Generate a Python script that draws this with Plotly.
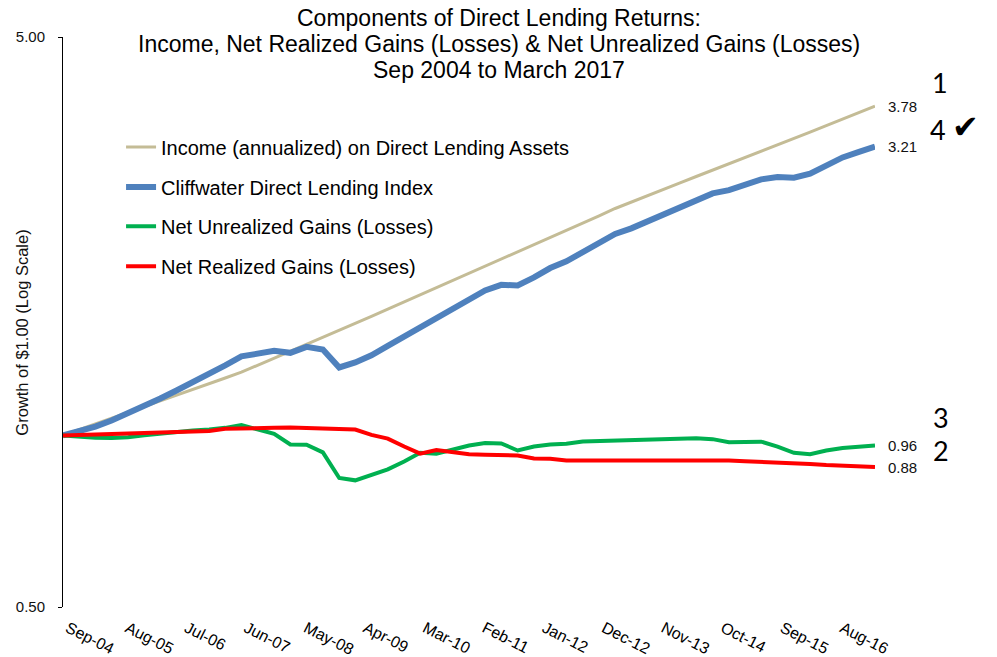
import numpy as np
import pandas as pd
import plotly.graph_objects as go

# ---------------- data ----------------
quarters = pd.date_range("2004-09-30", periods=51, freq=pd.offsets.QuarterEnd())

income = [1.000, 1.023, 1.048, 1.072, 1.097, 1.123, 1.150, 1.176, 1.204, 1.233,
          1.261, 1.291, 1.328, 1.365, 1.404, 1.443, 1.484, 1.526, 1.571, 1.617,
          1.665, 1.714, 1.765, 1.817, 1.870, 1.925, 1.982, 2.040, 2.099, 2.161,
          2.225, 2.291, 2.358, 2.428, 2.501, 2.568, 2.635, 2.704, 2.773, 2.846,
          2.919, 2.996, 3.073, 3.153, 3.235, 3.319, 3.405, 3.494, 3.584, 3.680,
          3.780]

cliffwater = [1.000, 1.018, 1.036, 1.062, 1.093, 1.126, 1.161, 1.199, 1.239, 1.280,
              1.327, 1.376, 1.394, 1.407, 1.396, 1.430, 1.415, 1.316, 1.343, 1.382,
              1.436, 1.490, 1.545, 1.612, 1.667, 1.732, 1.796, 1.837, 1.833, 1.893,
              1.966, 2.020, 2.095, 2.172, 2.257, 2.308, 2.374, 2.452, 2.522, 2.594,
              2.658, 2.693, 2.760, 2.813, 2.839, 2.832, 2.878, 2.976, 3.074, 3.143,
              3.210]

unrealized = [1.000, 0.994, 0.991, 0.990, 0.993, 1.001, 1.008, 1.015, 1.020, 1.024,
              1.031, 1.043, 1.024, 1.006, 0.964, 0.963, 0.934, 0.842, 0.834, 0.853,
              0.872, 0.900, 0.932, 0.929, 0.945, 0.960, 0.970, 0.968, 0.941, 0.956,
              0.964, 0.967, 0.976, 0.978, 0.978, 0.979, 0.982, 0.986, 0.988, 0.989,
              0.985, 0.973, 0.974, 0.975, 0.956, 0.932, 0.927, 0.941, 0.950, 0.954,
              0.960]

realized = [1.000, 1.002, 1.005, 1.007, 1.010, 1.011, 1.012, 1.014, 1.016, 1.018,
            1.027, 1.027, 1.028, 1.031, 1.032, 1.030, 1.027, 1.027, 1.024, 1.002,
            0.987, 0.956, 0.929, 0.943, 0.936, 0.927, 0.925, 0.925, 0.922, 0.911,
            0.910, 0.904, 0.904, 0.904, 0.904, 0.904, 0.904, 0.905, 0.906, 0.906,
            0.906, 0.904, 0.901, 0.899, 0.896, 0.893, 0.891, 0.887, 0.884, 0.881,
            0.880]

series_names = ["Income (annualized) on Direct Lending Assets",
                "Cliffwater Direct Lending Index",
                "Net Unrealized Gains (Losses)",
                "Net Realized Gains (Losses)"]
series_values = [income, cliffwater, unrealized, realized]
series_colors = ["#C4BC96", "#4F81BD", "#00B050", "#FF0000"]
series_widths = [3, 6, 4, 4]

x_tick_labels = ["Sep-04", "Aug-05", "Jul-06", "Jun-07", "May-08", "Apr-09", "Mar-10",
                 "Feb-11", "Jan-12", "Dec-12", "Nov-13", "Oct-14", "Sep-15", "Aug-16"]
x_tick_vals = [pd.to_datetime(t, format="%b-%y") + pd.offsets.MonthEnd(0) for t in x_tick_labels]

y_range = [0.5, 5.0]
y_tick_vals = [0.5, 5.0]
y_tick_text = ["0.50", "5.00"]
base_value = 1.0

title_lines = ["Components of Direct Lending Returns:",
               "Income, Net Realized Gains (Losses) & Net Unrealized Gains (Losses)",
               "Sep 2004 to March 2017"]

FONT = "Liberation Sans, Arial, Helvetica, sans-serif"
FIG_W, FIG_H = 989, 649

# ---------------- figure ----------------
fig = go.Figure()
legend_ids = ["legend", "legend2", "legend3", "legend4"]
for name, vals, col, w, lg in zip(series_names, series_values, series_colors,
                                  series_widths, legend_ids):
    fig.add_trace(go.Scatter(x=quarters, y=vals, mode="lines", name=name,
                             line=dict(color=col, width=w), legend=lg,
                             showlegend=True, hoverinfo="skip"))

# value labels at the end of each line
annotations = []
for vals in series_values:
    annotations.append(dict(x=quarters[-1], y=np.log10(vals[-1]), xref="x", yref="y",
                            text=f"{vals[-1]:.2f}", showarrow=False, xanchor="left",
                            yanchor="middle", xshift=11,
                            font=dict(size=15, color="#111", family=FONT)))

# title lines 2 and 3 (line 1 is the layout title)
for line, ypx in zip(title_lines[1:], [36, 62]):
    annotations.append(dict(x=491 / FIG_W, y=1 - ypx / FIG_H, xref="paper", yref="paper",
                            text=line, showarrow=False, xanchor="center", yanchor="middle",
                            font=dict(size=23, color="#000", family=FONT)))

# y-axis title
annotations.append(dict(x=-0.05, y=0.482, xref="paper", yref="paper",
                        text="Growth of $1.00 (Log Scale)", textangle=-90,
                        xanchor="center", yanchor="middle",
                        showarrow=False, font=dict(size=16.5, color="#111", family=FONT)))

# side marks
side_marks = [("1", 1.080, 0.921), ("4", 1.0776, 0.837), ("3", 1.081, 0.3316), ("2", 1.081, 0.2737)]
for txt, xx, yy in side_marks:
    annotations.append(dict(x=xx, y=yy, xref="paper", yref="paper", text=txt,
                            xanchor="center", yanchor="middle", showarrow=False,
                            font=dict(size=27, color="#000", family="Lato, Noto Sans, sans-serif")))
annotations.append(dict(x=1.112, y=0.842, xref="paper", yref="paper", text="\u2714",
                        xanchor="center", yanchor="middle", showarrow=False,
                        font=dict(size=32, color="#000", family="DejaVu Sans")))

# fix paper-referenced annotations that use figure pixels for the title lines
for a in annotations:
    if a.get("text") in title_lines[1:]:
        a["xref"] = "paper"
        a["yref"] = "paper"

pos_one = (np.log10(base_value) - np.log10(y_range[0])) / (np.log10(y_range[1]) - np.log10(y_range[0]))

legend_y = [0.807, 0.737, 0.668, 0.598]
legend_layouts = {}
for lg, yy in zip(legend_ids, legend_y):
    legend_layouts[lg] = dict(x=0.0715, y=yy, xanchor="left", yanchor="middle",
                              bgcolor="rgba(0,0,0,0)", itemwidth=30, visible=True,
                              font=dict(size=20, color="#000", family=FONT))

L, R, T, B = 55, 122, 29, 50
plot_w, plot_h = FIG_W - L - R, FIG_H - T - B
# convert title-line pixel positions (figure coords) to paper coords of the plot area
for a in annotations:
    if a.get("text") in title_lines[1:]:
        ypx = (1 - a["y"]) * FIG_H
        a["x"] = (491 - L) / plot_w
        a["y"] = (FIG_H - B - ypx) / plot_h

fig.update_layout(
    width=FIG_W, height=FIG_H,
    margin=dict(l=L, r=R, t=T, b=B, autoexpand=False),
    showlegend=True,
    paper_bgcolor="white", plot_bgcolor="white",
    title=dict(text=title_lines[0], x=491 / FIG_W, xref="container", xanchor="center",
               y=1 - 10 / FIG_H, yref="container", yanchor="middle",
               font=dict(size=23, color="#000", family=FONT)),
    xaxis=dict(type="date", range=[quarters[0], quarters[-1]], tickvals=x_tick_vals,
               ticktext=x_tick_labels, tickangle=27, showline=False, ticks="",
               showgrid=False, zeroline=False, ticklabelstandoff=8, ticklabelshift=5,
               automargin=False,
               tickfont=dict(size=16, color="#000", family=FONT)),
    xaxis2=dict(type="date", overlaying="x", anchor="free", position=pos_one,
                range=[quarters[0], quarters[-1]], tickvals=x_tick_vals, automargin=False,
                showticklabels=False, showline=True, linecolor="#000", linewidth=1,
                ticks="outside", ticklen=5, tickcolor="#888", showgrid=False, zeroline=False),
    yaxis=dict(type="log", range=[np.log10(y_range[0]), np.log10(y_range[1])],
               tickvals=y_tick_vals, ticktext=y_tick_text, showline=True,
               linecolor="#000", linewidth=1, ticks="outside", ticklen=4,
               tickcolor="#000", showgrid=False, zeroline=False, automargin=False,
               ticklabelstandoff=10,
               tickfont=dict(size=15, color="#111", family=FONT)),
    annotations=annotations,
    **legend_layouts,
)

fig.write_html("out.html")
